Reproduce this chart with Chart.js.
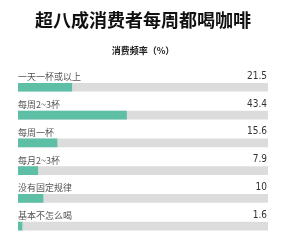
<!DOCTYPE html>
<html>
<head>
<meta charset="utf-8">
<script src="https://cdn.jsdelivr.net/npm/chart.js@4"></script>
<style>
  html, body { margin: 0; padding: 0; background: #fff; }
  #wrap { width: 285px; height: 240px; }
</style>
</head>
<body>
<div id="wrap"><canvas id="chart"></canvas></div>
<script>
const categories = ["一天一杯或以上", "每周2~3杯", "每周一杯", "每月2~3杯", "没有固定规律", "基本不怎么喝"];
const shares = [21.5, 43.4, 15.6, 7.9, 10, 1.6];
const fullScale = [100, 100, 100, 100, 100, 100];
const valueLabels = ["21.5", "43.4", "15.6", "7.9", "10", "1.6"];

const TEAL = "#5cbfa6";
const GRAY = "#dcdcdc";
const CJK = "'Noto Sans CJK SC', sans-serif";

// 每行：左上分类名，右上数值
const rowLabels = {
  id: "rowLabels",
  afterDatasetsDraw(chart) {
    const ctx = chart.ctx;
    const meta = chart.getDatasetMeta(0);
    ctx.save();
    ctx.textBaseline = "bottom";
    meta.data.forEach((bar, i) => {
      const top = bar.y - bar.height / 2 - 2;
      ctx.fillStyle = "#555";
      ctx.font = "9px " + CJK;
      ctx.textAlign = "left";
      ctx.fillText(categories[i], chart.chartArea.left, top);
      ctx.fillStyle = "#333";
      ctx.font = "10px 'Liberation Sans Narrow', 'DejaVu Sans Condensed', sans-serif";
      ctx.textAlign = "right";
      ctx.fillText(valueLabels[i], chart.chartArea.right - 1, top);
    });
    ctx.restore();
  }
};

new Chart(document.getElementById("chart"), {
  type: "bar",
  data: {
    labels: categories,
    datasets: [
      { data: shares, backgroundColor: TEAL, grouped: false, order: 0, barThickness: 8 },
      { data: fullScale, backgroundColor: GRAY, grouped: false, order: 1, barThickness: 8 }
    ]
  },
  options: {
    indexAxis: "y",
    responsive: true,
    maintainAspectRatio: false,
    animation: false,
    layout: { padding: { left: 18, right: 17, top: 0, bottom: 0 } },
    scales: {
      x: { display: false, min: 0, max: 100 },
      y: { display: false, offset: true }
    },
    plugins: {
      legend: { display: false },
      tooltip: { enabled: false },
      title: {
        display: true,
        text: "超八成消费者每周都喝咖啡",
        color: "#111",
        font: { family: CJK, size: 18, weight: "bold" },
        padding: { top: 9, bottom: 8 }
      },
      subtitle: {
        display: true,
        text: "消费频率（%）",
        color: "#222",
        font: { family: CJK, size: 9, weight: "bold" },
        padding: { top: 7, bottom: 17 }
      }
    }
  },
  plugins: [rowLabels]
});
</script>
</body>
</html>
